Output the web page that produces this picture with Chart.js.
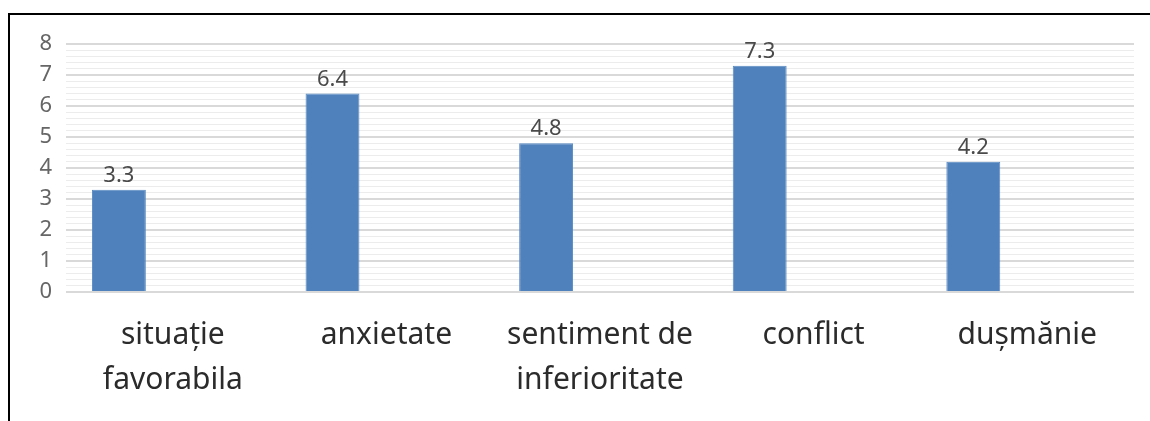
<!DOCTYPE html>
<html>
<head>
<meta charset="utf-8">
<script src="https://cdn.jsdelivr.net/npm/chart.js@4/dist/chart.umd.min.js"></script>
<style>
  html, body { margin: 0; padding: 0; background: #fff; }
  #wrap { position: relative; width: 1150px; height: 421px; }
  #frame { position: absolute; left: 8px; top: 13px; right: 0; bottom: 0;
           border-top: 2px solid #000; border-left: 2px solid #000; pointer-events: none; }
</style>
</head>
<body>
<div id="wrap">
  <canvas id="grafica" width="1150" height="421"></canvas>
  <div id="frame"></div>
</div>
<script>
// categorias y valores
const categorias = [['situație', 'favorabila'], 'anxietate', ['sentiment de', 'inferioritate'], 'conflict', 'dușmănie']
const valores = [3.3, 6.4, 4.8, 7.3, 4.2]
const vacio = [null, null, null, null, null]
const yMax = 8

Chart.defaults.font.family = "'Noto Sans', sans-serif"

const esEntero = v => Math.abs(v - Math.round(v)) < 1e-6

// etiquetas encima de las barras
const etiquetas = {
  id: 'etiquetas',
  afterDatasetsDraw(chart) {
    const ctx = chart.ctx
    const meta = chart.getDatasetMeta(0)
    ctx.save()
    ctx.font = "22px 'Noto Sans', sans-serif"
    ctx.fillStyle = '#4a4a4a'
    ctx.textAlign = 'center'
    ctx.textBaseline = 'alphabetic'
    meta.data.forEach((bar, i) => {
      ctx.fillText(valores[i].toFixed(1), bar.x, bar.y - 8)
    })
    ctx.restore()
  }
}

new Chart(document.getElementById('grafica'), {
  type: 'bar',
  data: {
    labels: categorias,
    datasets: [
      { data: valores, backgroundColor: '#4f81bd', borderColor: '#5a8ac4', borderWidth: 1 },
      { data: vacio },
      { data: vacio }
    ]
  },
  options: {
    responsive: false,
    animation: false,
    categoryPercentage: 0.757,
    barPercentage: 1,
    layout: { padding: { left: 0, right: 16, top: 44, bottom: 0 } },
    plugins: { legend: { display: false }, tooltip: { enabled: false } },
    scales: {
      y: {
        min: 0,
        max: yMax,
        afterFit: s => { s.width = 66 },
        border: { display: false },
        grid: {
          drawTicks: false,
          color: c => esEntero(c.tick.value) ? '#d9d9d9' : '#ececec',
          lineWidth: c => esEntero(c.tick.value) ? 2 : 1
        },
        ticks: {
          stepSize: 0.2,
          autoSkip: false,
          padding: 14,
          color: '#666666',
          font: { size: 22 },
          callback: v => esEntero(v) ? String(Math.round(v)) : ''
        }
      },
      x: {
        afterFit: s => { s.height = 129 },
        border: { display: false },
        grid: { display: false },
        ticks: {
          padding: 13,
          color: '#2b2b2b',
          maxRotation: 0,
          autoSkip: false,
          font: { size: 30, lineHeight: 1.5 }
        }
      }
    }
  },
  plugins: [etiquetas]
})
</script>
</body>
</html>
